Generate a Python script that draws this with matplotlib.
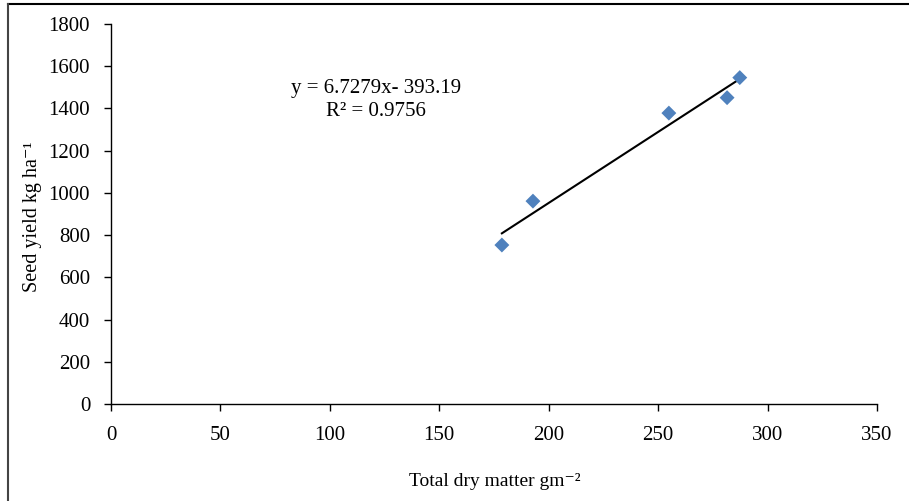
import matplotlib
matplotlib.use("Agg")
import matplotlib.pyplot as plt
from matplotlib.lines import Line2D
import numpy as np

plt.rcParams['font.family'] = ['Liberation Serif', 'DejaVu Serif']

dry_matter = [178.6, 192.8, 254.9, 281.5, 287.3]
seed_yield = [753, 961, 1378, 1451, 1546]
slope = 6.7279
intercept = -393.19
r2 = 0.9756
x_ticks = [0, 50, 100, 150, 200, 250, 300, 350]
y_ticks = [0, 200, 400, 600, 800, 1000, 1200, 1400, 1600, 1800]

fig = plt.figure(figsize=(9.09, 5.01), dpi=100)
W, H = 909, 501
ax = fig.add_axes([111 / W, 1 - 404 / H, (877 - 111) / W, (404 - 24) / H])

ax.scatter(dry_matter, seed_yield, marker='D', s=7.6**2, color='#4F81BD',
           edgecolors='none', zorder=3)
xl = np.array([min(dry_matter), max(dry_matter)])
ax.plot(xl, slope * xl + intercept, color='black', lw=1.5, zorder=2)

ax.set_xlim(0, 350)
ax.set_ylim(0, 1800)
ax.set_xticks(x_ticks)
ax.set_yticks(y_ticks)
ax.tick_params(labelsize=15, length=5, width=1, direction='out')
ax.tick_params(axis='y', pad=10)
ax.tick_params(axis='x', pad=11)
for s in ['top', 'right']:
    ax.spines[s].set_visible(False)
for s in ['left', 'bottom']:
    ax.spines[s].set_linewidth(1)

ax.text(376 / W, 1 - 88 / H, f"y = {slope}x- {abs(intercept)}", transform=fig.transFigure,
        ha='center', va='center', fontsize=15)
ax.text(376 / W, 1 - 112 / H, f"R² = {r2}", transform=fig.transFigure,
        ha='center', va='center', fontsize=15)

fig.text(33 / W, 1 - 217 / H, "Seed yield kg ha⁻¹", rotation=90,
         ha='center', va='center', fontsize=14.5)
fig.text(495 / W, 1 - 482 / H, "Total dry matter gm⁻²",
         ha='center', va='center', fontsize=14)

fig.add_artist(Line2D([8 / W, 1], [1 - 4 / H, 1 - 4 / H], color='black', lw=1.5,
                      transform=fig.transFigure))
fig.add_artist(Line2D([8 / W, 8 / W], [0, 1 - 4 / H], color='#444444', lw=1.5,
                      transform=fig.transFigure))

fig.savefig("out.png", dpi=100)
